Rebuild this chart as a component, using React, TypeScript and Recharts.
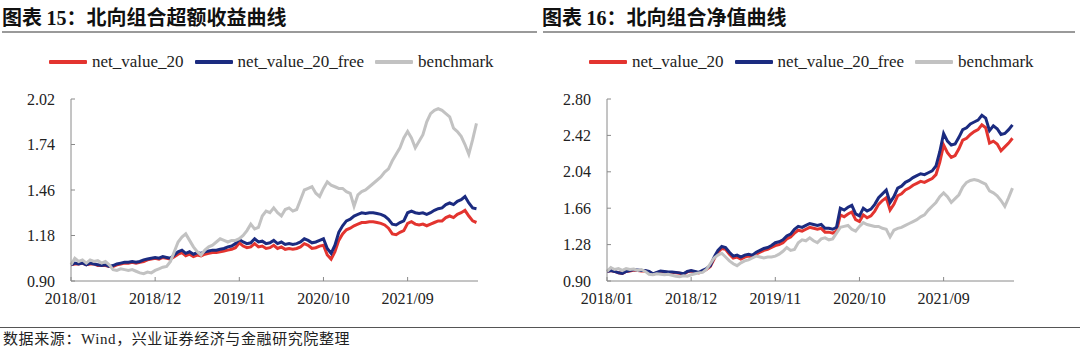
import { LineChart, Line, XAxis, YAxis } from "recharts";

// x axis: months since 2018/01, one point every half month
const X_TICKS = [0, 11, 22, 33, 44];
const X_LABELS = ["2018/01", "2018/12", "2019/11", "2020/10", "2021/09"];
const EXCESS_Y_TICKS = [0.9, 1.18, 1.46, 1.74, 2.02];
const NAV_Y_TICKS = [0.9, 1.28, 1.66, 2.04, 2.42, 2.8];
const SERIES_NAMES = ["net_value_20", "net_value_20_free", "benchmark"];

const BENCHMARK = [
  1.0, 1.04, 1.02, 1.03, 1.01, 1.03, 1.02, 1.025, 1.01, 1.02,
  1.0, 0.97, 0.965, 0.975, 0.97, 0.965, 0.97, 0.96, 0.95, 0.945,
  0.955, 0.95, 0.965, 0.975, 0.985, 0.99, 1.02, 1.08, 1.14, 1.17,
  1.19, 1.15, 1.11, 1.08, 1.06, 1.09, 1.11, 1.12, 1.14, 1.16,
  1.15, 1.14, 1.15, 1.15, 1.16, 1.18, 1.21, 1.25, 1.22, 1.23,
  1.3, 1.33, 1.32, 1.35, 1.32, 1.3, 1.34, 1.35, 1.33, 1.34,
  1.4, 1.46, 1.47, 1.48, 1.44, 1.42, 1.47, 1.51, 1.49, 1.48,
  1.47, 1.47, 1.45, 1.44, 1.36, 1.43, 1.45, 1.46, 1.48, 1.5,
  1.52, 1.54, 1.57, 1.59, 1.64, 1.68, 1.72, 1.78, 1.82, 1.78,
  1.72, 1.76, 1.8, 1.88, 1.93, 1.95, 1.96, 1.95, 1.93, 1.91,
  1.84, 1.82, 1.79, 1.74, 1.68, 1.77, 1.87,
];

const EXCESS_20 = [
  1.0, 1.005, 1.005, 1.01, 1.0, 1.005, 1.005, 0.995, 0.995, 0.995,
  0.99, 0.99, 1.0, 1.005, 1.01, 1.01, 1.015, 1.01, 1.015, 1.02,
  1.03, 1.035, 1.04, 1.035, 1.045, 1.04, 1.035, 1.05, 1.065, 1.075,
  1.055, 1.065, 1.05, 1.06, 1.055, 1.065, 1.07, 1.075, 1.075, 1.08,
  1.085, 1.09, 1.095, 1.105, 1.135, 1.115, 1.105, 1.11, 1.13, 1.11,
  1.115, 1.1, 1.105, 1.12, 1.1, 1.11, 1.095, 1.1, 1.095, 1.1,
  1.11, 1.13, 1.12, 1.1, 1.105, 1.115, 1.12, 1.06, 1.035, 1.08,
  1.15, 1.19, 1.215, 1.225, 1.24, 1.25, 1.26, 1.26, 1.265, 1.265,
  1.26, 1.255, 1.245, 1.225, 1.19, 1.185, 1.2, 1.21, 1.255, 1.265,
  1.25, 1.245, 1.25, 1.24, 1.25, 1.26, 1.27, 1.27, 1.29, 1.3,
  1.29, 1.31, 1.32, 1.335, 1.3, 1.27, 1.26,
];

const EXCESS_20_FREE = [
  1.0, 1.01, 1.005, 1.01, 1.0, 1.01, 1.005, 1.0, 0.995, 1.0,
  0.99, 0.995, 1.005, 1.01, 1.015, 1.015, 1.02, 1.015, 1.02, 1.03,
  1.035, 1.04, 1.045, 1.04, 1.05, 1.045, 1.04, 1.06, 1.08, 1.09,
  1.07, 1.08, 1.065, 1.075, 1.07, 1.08, 1.085, 1.09, 1.09, 1.095,
  1.1, 1.11, 1.115, 1.13, 1.155, 1.14, 1.13, 1.135, 1.16, 1.14,
  1.145, 1.13, 1.135, 1.15, 1.13, 1.14, 1.125, 1.13, 1.125, 1.13,
  1.14, 1.16, 1.15, 1.135, 1.14, 1.15, 1.16, 1.1, 1.07, 1.12,
  1.2, 1.24, 1.27, 1.28, 1.3, 1.31, 1.32, 1.315, 1.32, 1.32,
  1.315, 1.31, 1.3, 1.28, 1.25, 1.245, 1.26, 1.27, 1.32, 1.33,
  1.32, 1.315, 1.32, 1.31, 1.32, 1.335, 1.345, 1.35, 1.37, 1.38,
  1.37, 1.39, 1.4, 1.42, 1.38, 1.35, 1.345,
];

const NAV_20 = [
  1.0, 1.01, 1.0, 0.985, 0.98, 1.0, 1.005, 1.015, 1.01, 1.005,
  1.005, 0.995, 0.97, 0.985, 1.0, 0.995, 0.99, 0.99, 0.985, 0.98,
  0.97, 0.995, 1.005, 0.995, 0.985, 1.0, 1.02, 1.05, 1.13, 1.2,
  1.24, 1.23, 1.18, 1.14, 1.15, 1.13, 1.15, 1.16, 1.15, 1.18,
  1.2, 1.22, 1.23, 1.25, 1.27, 1.28, 1.3, 1.34, 1.36, 1.4,
  1.43, 1.42, 1.44, 1.46, 1.45, 1.44, 1.45, 1.41, 1.41, 1.4,
  1.42, 1.59, 1.57, 1.6, 1.62, 1.54, 1.52, 1.59, 1.56, 1.58,
  1.63, 1.7, 1.74, 1.77, 1.64, 1.7, 1.79, 1.81, 1.85, 1.87,
  1.9, 1.92, 1.94, 1.93, 1.95, 1.97, 2.01, 2.14, 2.32, 2.24,
  2.19, 2.21, 2.28, 2.37, 2.39, 2.43, 2.46, 2.48, 2.53, 2.5,
  2.34, 2.36, 2.33, 2.26, 2.3, 2.34, 2.39,
];

const NAV_20_FREE = [
  1.0, 1.01, 1.0, 0.985, 0.98, 1.0, 1.01, 1.02, 1.015, 1.01,
  1.01, 1.0, 0.975, 0.99, 1.005, 1.0, 0.995, 0.995, 0.99, 0.985,
  0.975, 1.0, 1.01, 1.0, 0.99, 1.01, 1.03, 1.06, 1.15, 1.22,
  1.26, 1.25, 1.2, 1.16, 1.17, 1.15, 1.17, 1.18, 1.17, 1.2,
  1.22, 1.24, 1.25, 1.27, 1.3, 1.31, 1.33, 1.37, 1.39, 1.44,
  1.47, 1.46, 1.48, 1.5, 1.49, 1.48, 1.49, 1.45, 1.45, 1.44,
  1.46, 1.66, 1.64, 1.67, 1.69, 1.6, 1.58, 1.66, 1.63, 1.65,
  1.7, 1.77, 1.81, 1.85, 1.72, 1.78, 1.87, 1.89, 1.93, 1.95,
  1.98, 2.0, 2.02, 2.01, 2.03, 2.05, 2.1, 2.25, 2.44, 2.36,
  2.32, 2.33, 2.4, 2.48, 2.5, 2.54, 2.56, 2.58, 2.63, 2.6,
  2.47, 2.52, 2.49, 2.43, 2.44, 2.48, 2.53,
];

const SERIF = '"Liberation Serif", "Times New Roman", serif';
const CJK = '"Noto Sans CJK SC", sans-serif';
const COLORS = ["#E3342F", "#1B2B80", "#C2C2C2"];
const AXIS = "#8a8a8a";

function buildRows(net: number[], free: number[]) {
  return net.map((v, i) => ({ t: i / 2, net: v, free: free[i], bench: BENCHMARK[i] }));
}

function ChartLegend() {
  return (
    <div style={{ position: "absolute", left: 49, top: 52, height: 20, display: "flex", alignItems: "center", fontFamily: SERIF, fontSize: 17, color: "#222", whiteSpace: "nowrap" }}>
      {SERIES_NAMES.map((name, i) => (
        <div key={name} style={{ display: "flex", alignItems: "center", marginRight: 11 }}>
          <div style={{ width: 38, height: 4, background: COLORS[i], marginRight: 5, borderRadius: 1 }} />
          <span>{name}</span>
        </div>
      ))}
    </div>
  );
}

interface PanelProps {
  left: number;
  num: string;
  title: string;
  rows: { t: number; net: number; free: number; bench: number }[];
  yTicks: number[];
  yAxisWidth: number;
  marginRight: number;
  ruleLeft: number;
  ruleWidth: number;
}

function Panel({ left, num, title, rows, yTicks, yAxisWidth, marginRight, ruleLeft, ruleWidth }: PanelProps) {
  const tickStyle = { fontSize: 16, fill: "#222", fontFamily: SERIF };
  return (
    <div style={{ position: "absolute", left, top: 0, width: 540, height: 349 }}>
      <LineChart width={540} height={349} data={rows} margin={{ top: 99, right: marginRight, bottom: 0, left: 0 }} style={{ fontFamily: SERIF }}>
        <XAxis
          dataKey="t"
          type="number"
          domain={[0, 53.2]}
          ticks={X_TICKS}
          interval={0}
          height={68}
          tickFormatter={(v: number) => X_LABELS[X_TICKS.indexOf(v)] ?? ""}
          axisLine={{ stroke: AXIS }}
          tickLine={{ stroke: AXIS }}
          tickSize={-4}
          tickMargin={16}
          tick={tickStyle}
        />
        <YAxis
          type="number"
          domain={[yTicks[0], yTicks[yTicks.length - 1]]}
          ticks={yTicks}
          interval={0}
          width={yAxisWidth}
          tickFormatter={(v: number) => v.toFixed(2)}
          axisLine={{ stroke: AXIS }}
          tickLine={{ stroke: AXIS }}
          tickSize={-4}
          tickMargin={20}
          tick={tickStyle}
        />
        <Line dataKey="net" name={SERIES_NAMES[0]} stroke={COLORS[0]} strokeWidth={3} dot={false} isAnimationActive={false} />
        <Line dataKey="free" name={SERIES_NAMES[1]} stroke={COLORS[1]} strokeWidth={3} dot={false} isAnimationActive={false} />
        <Line dataKey="bench" name={SERIES_NAMES[2]} stroke={COLORS[2]} strokeWidth={3} dot={false} isAnimationActive={false} />
      </LineChart>
      <div style={{ position: "absolute", left: 2, top: 5, lineHeight: 1.2, fontFamily: CJK, fontWeight: 700, fontSize: 20, color: "#111", whiteSpace: "nowrap" }}>
        图表 <span style={{ fontFamily: SERIF }}>{num}</span>：{title}
      </div>
      <div style={{ position: "absolute", left: ruleLeft, top: 31, width: ruleWidth, height: 2, background: "#9a9a9a" }} />
      <ChartLegend />
    </div>
  );
}

export default function App() {
  return (
    <div style={{ position: "absolute", left: 0, top: 0, width: 1080, height: 349, background: "#fff", overflow: "hidden" }}>
      <Panel left={0} num="15" title="北向组合超额收益曲线" rows={buildRows(EXCESS_20, EXCESS_20_FREE)}
        yTicks={EXCESS_Y_TICKS} yAxisWidth={71} marginRight={62} ruleLeft={2} ruleWidth={535} />
      <Panel left={540} num="16" title="北向组合净值曲线" rows={buildRows(NAV_20, NAV_20_FREE)}
        yTicks={NAV_Y_TICKS} yAxisWidth={67} marginRight={66} ruleLeft={3} ruleWidth={532} />
      <div style={{ position: "absolute", left: 0, top: 327, width: 1080, height: 1, background: "#555" }} />
      <div style={{ position: "absolute", left: 3, top: 328, lineHeight: "20px", fontFamily: CJK, fontSize: 15, letterSpacing: 0.6, color: "#222", whiteSpace: "nowrap" }}>
        数据来源：<span style={{ fontFamily: SERIF }}>Wind</span>，兴业证券经济与金融研究院整理
      </div>
    </div>
  );
}
